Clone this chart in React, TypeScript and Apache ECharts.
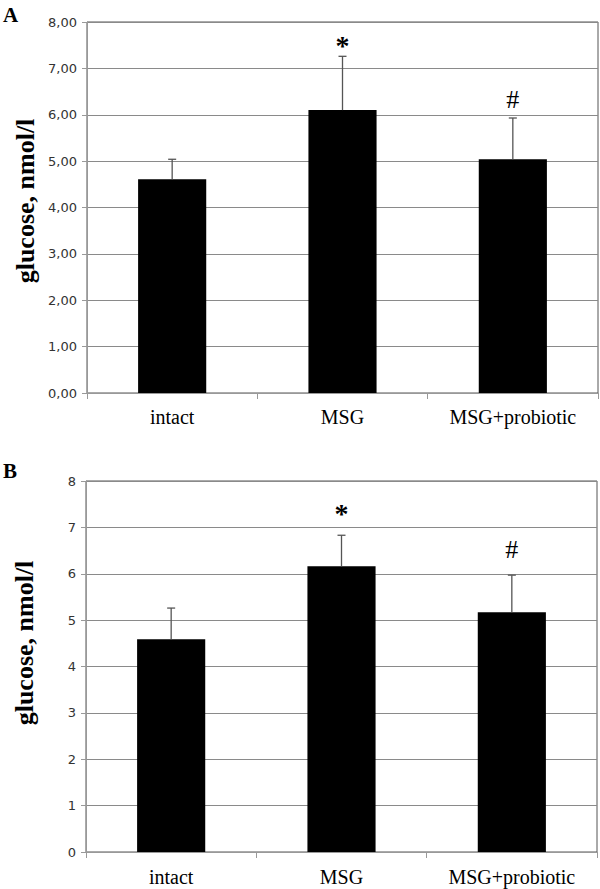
import React, { useEffect, useRef } from "react";
import * as echarts from "echarts";

const categories = ["intact", "MSG", "MSG+probiotic"];
const meansA = [4.61, 6.1, 5.04];
const upperA = [5.04, 7.26, 5.93];
const meansB = [4.59, 6.16, 5.17];
const upperB = [5.26, 6.83, 5.97];
const marks = ["", "*", "#"];
const markYA = [0, 7.5, 6.33];
const markYB = [0, 7.3, 6.53];
const yTitle = "glucose, nmol/l";

const serif = "'Liberation Serif', 'Times New Roman', serif";
const sans = "'DejaVu Sans', Verdana, sans-serif";

function errorSeries(gridIdx: number, means: number[], upper: number[], markY: number[]) {
  return {
    type: "custom",
    xAxisIndex: gridIdx,
    yAxisIndex: gridIdx,
    z: 5,
    data: means.map((m, i) => [i, m, upper[i], markY[i]]),
    renderItem: (params: any, api: any) => {
      const i = api.value(0);
      const p0 = api.coord([i, api.value(1)]);
      const p1 = api.coord([i, api.value(2)]);
      const pm = api.coord([i, api.value(3)]);
      const children: any[] = [
        { type: "line", shape: { x1: p0[0], y1: p0[1], x2: p1[0], y2: p1[1] }, style: { stroke: "#555", lineWidth: 1.3 } },
        { type: "line", shape: { x1: p1[0] - 4, y1: p1[1], x2: p1[0] + 4, y2: p1[1] }, style: { stroke: "#555", lineWidth: 1.3 } },
      ];
      const t = marks[params.dataIndex];
      if (t) {
        children.push({
          type: "text",
          x: pm[0],
          y: pm[1],
          style: {
            text: t,
            fill: "#000",
            font: t === "*" ? `bold 28px ${serif}` : `26px ${serif}`,
            align: "center",
            verticalAlign: "middle",
          },
        });
      }
      return { type: "group", children };
    },
  };
}

export default function App() {
  const ref = useRef<HTMLDivElement>(null);
  useEffect(() => {
    if (!ref.current) return;
    const chart = echarts.init(ref.current, null, { renderer: "svg" });
    const grids = [
      { left: 87, top: 22, width: 511, height: 371 },
      { left: 86, top: 481, width: 511, height: 371 },
    ];
    const xAxes = grids.map((_, gi) => ({
      type: "category",
      gridIndex: gi,
      data: categories,
      axisLine: { lineStyle: { color: "#999", width: 1 } },
      axisTick: { show: true, length: 6, lineStyle: { color: "#999" } },
      axisLabel: { color: "#000", fontFamily: serif, fontSize: 20, margin: gi === 0 ? 14 : 15 },
    }));
    const yAxes = grids.map((_, gi) => ({
      type: "value",
      gridIndex: gi,
      min: 0,
      max: 8,
      interval: 1,
      axisLine: { show: true, lineStyle: { color: "#999", width: 1 } },
      axisTick: { show: true, length: 5, lineStyle: { color: "#999" } },
      axisLabel: {
        color: "#333",
        fontFamily: sans,
        fontSize: 13,
        margin: 10,
        formatter: gi === 0 ? (v: number) => v.toFixed(2).replace(".", ",") : (v: number) => String(v),
      },
      splitLine: { show: true, lineStyle: { color: "#8a8a8a", width: 1 } },
    }));
    chart.setOption({
      animation: false,
      backgroundColor: "#fff",
      grid: grids.map((g) => ({ ...g, show: true, borderColor: "#555", borderWidth: 1, backgroundColor: "transparent" })),
      xAxis: xAxes,
      yAxis: yAxes,
      series: [
        { type: "bar", xAxisIndex: 0, yAxisIndex: 0, data: meansA, barWidth: "40%", itemStyle: { color: "#000" } },
        { type: "bar", xAxisIndex: 1, yAxisIndex: 1, data: meansB, barWidth: "40%", itemStyle: { color: "#000" } },
        errorSeries(0, meansA, upperA, markYA),
        errorSeries(1, meansB, upperB, markYB),
      ],
      graphic: [
        { type: "text", left: 3, top: 4, style: { text: "A", font: `bold 21px ${serif}`, fill: "#000" } },
        { type: "text", left: 3, top: 460, style: { text: "B", font: `bold 21px ${serif}`, fill: "#000" } },
        {
          type: "text", x: 25, y: 201, rotation: Math.PI / 2,
          style: { text: yTitle, font: `bold 26px ${serif}`, fill: "#000", align: "center", verticalAlign: "middle" },
        },
        {
          type: "text", x: 24, y: 643, rotation: Math.PI / 2,
          style: { text: yTitle, font: `bold 26px ${serif}`, fill: "#000", align: "center", verticalAlign: "middle" },
        },
      ],
    });
    return () => chart.dispose();
  }, []);
  return <div ref={ref} style={{ position: "absolute", left: 0, top: 0, width: 600, height: 889 }} />;
}
